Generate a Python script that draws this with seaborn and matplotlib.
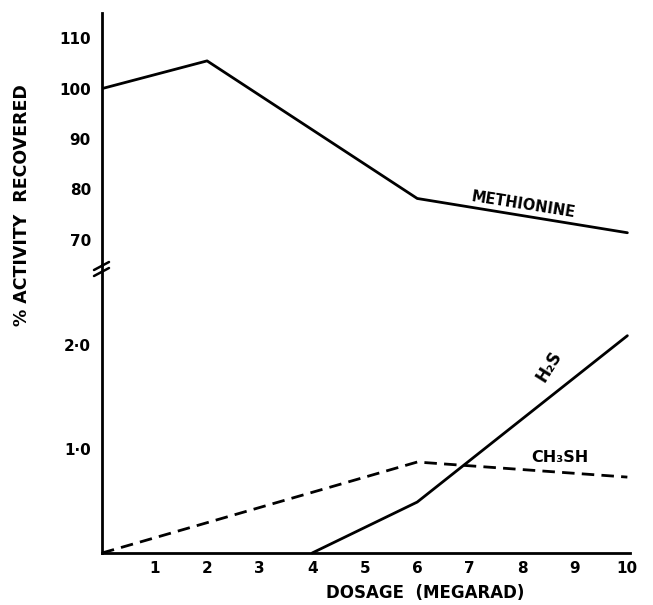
import matplotlib
matplotlib.use("Agg")
import matplotlib.pyplot as plt
import seaborn as sns
import pandas as pd

# ---- data ----
dose_met = [0, 2, 6, 10]
methionine = [100, 105.5, 78.2, 71.4]
dose_h2s = [4, 6, 10]
h2s = [0, 0.49, 2.09]
dose_ch3sh = [0, 6, 10]
ch3sh = [0, 0.875, 0.73]
upper_ticks = [70, 80, 90, 100, 110]
upper_tick_labels = ["70", "80", "90", "100", "110"]
lower_ticks = [1.0, 2.0]
lower_tick_labels = ["1·0", "2·0"]
x_ticks = [1, 2, 3, 4, 5, 6, 7, 8, 9, 10]
x_tick_labels = [str(v) for v in x_ticks]

sns.set_style("white")
plt.rcParams['font.family'] = ['DejaVu Sans']
plt.rcParams['text.color'] = 'black'
plt.rcParams['xtick.color'] = 'black'
plt.rcParams['ytick.color'] = 'black'

met_df = pd.DataFrame({"dose": dose_met, "value": methionine})
h2s_df = pd.DataFrame({"dose": dose_h2s, "value": h2s})
ch3sh_df = pd.DataFrame({"dose": dose_ch3sh, "value": ch3sh})

W, H = 653, 605
fig = plt.figure(figsize=(W / 100, H / 100), dpi=100)
left, right = 102, 630
top_px, break_px, bottom_px = 13, 265, 553
ax_top = fig.add_axes([left / W, 1 - break_px / H, (right - left) / W, (break_px - top_px) / H])
ax_bot = fig.add_axes([left / W, 1 - bottom_px / H, (right - left) / W, (bottom_px - break_px) / H])

lw = 2.0
sns.lineplot(data=met_df, x="dose", y="value", ax=ax_top, color="black", linewidth=lw)
sns.lineplot(data=h2s_df, x="dose", y="value", ax=ax_bot, color="black", linewidth=lw, clip_on=False)
sns.lineplot(data=ch3sh_df, x="dose", y="value", ax=ax_bot, color="black", linewidth=lw,
             linestyle=(0, (4.5, 2.6)), clip_on=False)

for ax in (ax_top, ax_bot):
    ax.set_xlim(0, 10.05)
    ax.set_xlabel("")
    ax.set_ylabel("")
    ax.spines["top"].set_visible(False)
    ax.spines["right"].set_visible(False)
    for s in ("left", "bottom"):
        ax.spines[s].set_linewidth(2.0)
        ax.spines[s].set_color("black")
    ax.tick_params(length=0, colors="black")
    ax.set_facecolor("none")

ax_top.set_ylim(65, 115)
ax_top.spines["bottom"].set_visible(False)
ax_top.set_xticks([])
ax_top.set_yticks(upper_ticks)
ax_top.set_yticklabels(upper_tick_labels, fontsize=11, fontweight="bold")
ax_top.tick_params(axis="y", pad=8)

ax_bot.set_ylim(0, 2.77)
ax_bot.set_yticks(lower_ticks)
ax_bot.set_yticklabels(lower_tick_labels, fontsize=11, fontweight="bold")
ax_bot.set_xticks(x_ticks)
ax_bot.set_xticklabels(x_tick_labels, fontsize=11, fontweight="bold")
ax_bot.tick_params(axis="y", pad=8)
ax_bot.tick_params(axis="x", pad=6)

# break marks on the y axis
for dy in (0, 6):
    fig.add_artist(plt.Line2D([94 / W, 109 / W], [1 - (270 + dy) / H, 1 - (262 + dy) / H],
                              color="black", linewidth=1.8, transform=fig.transFigure))

# labels on the curves
ax_top.text(8.02, 76.9, "METHIONINE", rotation=-9, ha="center", va="center",
            fontsize=10.5, fontweight="bold", color="black")
ax_bot.text(8.72, 0.92, "CH₃SH", ha="center", va="center", fontsize=11.5,
            fontweight="bold", color="black")
ax_bot.text(8.5, 1.8, "H₂S", rotation=58, ha="center", va="center", fontsize=12,
            fontweight="bold", color="black")

fig.text(425 / W, 1 - 593 / H, "DOSAGE  (MEGARAD)", ha="center", va="center",
         fontsize=12, fontweight="bold", color="black")
fig.text(22 / W, 1 - 205 / H, "% ACTIVITY  RECOVERED", ha="center", va="center",
         rotation=90, fontsize=12.5, fontweight="bold", color="black")

fig.savefig("out.png", dpi=100, facecolor="white")
